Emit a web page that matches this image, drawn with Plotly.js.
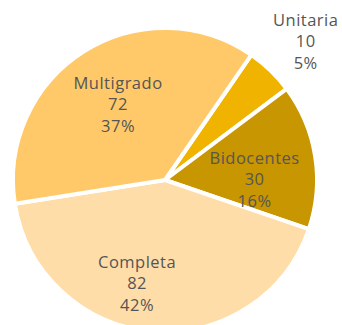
<!DOCTYPE html>
<html>
<head>
<meta charset="utf-8">
<script src="https://cdn.plot.ly/plotly-3.0.1.min.js"></script>
<style>
  html, body { margin: 0; padding: 0; overflow: hidden; background: #fff; }
  #chart { width: 342px; height: 340px; }
  #chart .annotation-text { letter-spacing: 0.5px; }
</style>
</head>
<body>
<div id="chart"></div>
<script>
// School types by number of teachers
const categories = ["Unitaria", "Bidocentes", "Completa", "Multigrado"];
const counts = [10, 30, 82, 72];
const sliceColors = ["#F0B400", "#C89600", "#FFDDA8", "#FFC969"];

// Whole-number percentages that add up to 100 (largest remainder)
function roundedPercents(vals) {
  const total = vals.reduce((a, b) => a + b, 0);
  const raw = vals.map(v => v * 100 / total);
  const out = raw.map(Math.floor);
  const left = 100 - out.reduce((a, b) => a + b, 0);
  raw.map((r, i) => [r - Math.floor(r), i])
     .sort((a, b) => b[0] - a[0])
     .slice(0, left)
     .forEach(([, i]) => { out[i] += 1; });
  return out.map(p => p + "%");
}
const percentText = roundedPercents(counts);

// Pie geometry (pixels) and label placement
const W = 342, H = 340;
const margin = { l: 13, r: 25, t: 28, b: 8 };
const startAngle = 34.6;                 // degrees clockwise from 12 o'clock
const labelRadius = [1.30, 0.59, 0.70, 0.59];   // fraction of pie radius
const labelTurn = [1.5, 8.5, 10.3, 0.6];        // extra clockwise turn, degrees

const plotW = W - margin.l - margin.r;
const plotH = H - margin.t - margin.b;
const R = Math.min(plotW, plotH) / 2;
const total = counts.reduce((a, b) => a + b, 0);

let acc = 0;
const annotations = counts.map((v, i) => {
  const mid = startAngle + 360 * (acc + v / 2) / total + labelTurn[i];
  acc += v;
  const a = mid * Math.PI / 180;
  const dx = Math.sin(a) * R * labelRadius[i];
  const dy = Math.cos(a) * R * labelRadius[i];
  return {
    xref: "paper", yref: "paper",
    x: 0.5 + dx / plotW,
    y: 0.5 + dy / plotH,
    xanchor: "center", yanchor: "middle",
    showarrow: false,
    align: "center",
    text: categories[i] + "<br>" + counts[i] + "<br>" + percentText[i],
    font: { family: "Open Sans, sans-serif", size: 16.5, color: "#555555" }
  };
});

const trace = {
  type: "pie",
  labels: categories,
  values: counts,
  sort: false,
  direction: "clockwise",
  rotation: startAngle,
  marker: { colors: sliceColors, line: { color: "#ffffff", width: 4 } },
  textinfo: "none",
  hoverinfo: "none",
  showlegend: false
};

const layout = {
  width: W,
  height: H,
  margin: margin,
  paper_bgcolor: "#ffffff",
  showlegend: false,
  annotations: annotations
};

Plotly.newPlot("chart", [trace], layout, { displayModeBar: false, staticPlot: true });
</script>
</body>
</html>
